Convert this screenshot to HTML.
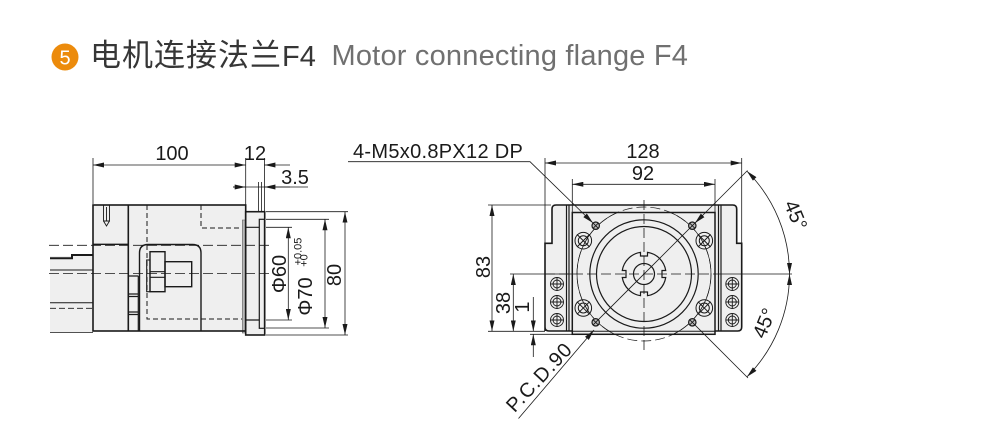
<!DOCTYPE html>
<html>
<head>
<meta charset="utf-8">
<style>
  html,body{margin:0;padding:0;background:#fff;}
  svg{display:block;}
  text{font-family:"Liberation Sans","Noto Sans CJK SC",sans-serif;}
</style>
</head>
<body>
<svg width="990" height="448" viewBox="0 0 990 448" xmlns="http://www.w3.org/2000/svg">
  <defs>
    <marker id="a" markerWidth="11" markerHeight="5" refX="11" refY="2.5" orient="auto-start-reverse" markerUnits="userSpaceOnUse">
      <path d="M0 0 L11 2.5 L0 5 Z" fill="#1a1a1a"/>
    </marker>
    <clipPath id="sq"><rect x="572.3" y="212.5" width="142.7" height="121.8"/></clipPath>
  </defs>
  <rect width="990" height="448" fill="#fff"/>

  <!-- Title -->
  <circle cx="65" cy="57" r="13.5" fill="#EC8B0C"/>
  <text x="65" y="64.5" font-size="20" fill="#fff" text-anchor="middle">5</text>
  <text x="90" y="66" font-size="31" fill="#363636" letter-spacing="1" font-family="'Liberation Sans','Noto Sans CJK SC',sans-serif">电机连接法兰<tspan font-size="29" letter-spacing="0">F4</tspan></text>
  <text x="331.5" y="65" font-size="29" fill="#707070" letter-spacing="0.2">Motor connecting flange F4</text>

  <!-- ================= LEFT DRAWING ================= -->
  <g stroke="none" fill="#efefef">
    <rect x="50" y="256" width="43" height="76.5"/>
    <rect x="93" y="205" width="152.7" height="126"/>
    <rect x="245.7" y="211.7" width="19" height="123.3"/>
  </g>
  <rect x="242.3" y="220" width="3.4" height="113" fill="#b8b8b8" stroke="#666" stroke-width="0.6"/>

  <g fill="none" stroke="#1a1a1a">
    <!-- center / hidden lines -->
    <path d="M49 273.5 H270" stroke-width="0.8" stroke-dasharray="10 4"/>
    <path d="M49 245.3 H270" stroke-width="0.8" stroke-dasharray="10 4"/>
    <path d="M50 308.3 H93" stroke-width="0.9" stroke-dasharray="6 3"/>
    <path d="M147 205 V319 H242 M201 205 V228 H242" stroke-width="1" stroke-dasharray="5 3"/>

    <!-- shaft -->
    <path d="M50 258.3 H72 V255 H93" stroke-width="2"/>
    <path d="M50 270 H93 M50 302.7 H93" stroke-width="1"/>
    <path d="M50 332.5 H93" stroke-width="0.8"/>

    <!-- body -->
    <rect x="93" y="205" width="152.7" height="126" stroke-width="1.6"/>
    <path d="M93 244.3 H128.3" stroke-width="1.3"/>
    <path d="M128.3 205 V331" stroke-width="1.6"/>
    <!-- screw -->
    <path d="M103.5 205 V221 H109.5 V205 M103.5 221 L106.5 226 L109.5 221 M106.5 207 V221" stroke-width="0.9"/>
    <!-- ladder -->
    <path d="M138.3 276 V331 M128.3 276 H138.3 M128.3 294 H138.3 M128.3 296.5 H138.3 M128.3 312 H138.3 M128.3 314.5 H138.3" stroke-width="1.2"/>
    <!-- rounded cover -->
    <path d="M139.5 331 V253 Q139.5 244.5 148 244.5 H192.5 Q201 244.5 201 253 V331" stroke-width="1.4"/>
    <!-- coupling -->
    <rect x="150" y="251.7" width="15" height="40" stroke-width="1.4"/>
    <rect x="165" y="261.7" width="26.7" height="25" stroke-width="1.4"/>
    <rect x="146.7" y="260" width="3.3" height="31.7" stroke-width="1.1"/>
    <path d="M150 271.7 H165 M150 277.3 H165" stroke-width="1.1"/>

    <!-- flange -->
    <rect x="245.7" y="211.7" width="19" height="123.3" stroke-width="1.6"/>
    <rect x="259.3" y="219.3" width="5.2" height="109" stroke-width="1.2"/>
    <path d="M245.7 227.3 H259.3 M245.7 320 H259.3" stroke-width="1.2"/>

    <!-- extension lines -->
    <path d="M93 158 V204 M245.7 158 V211 M264.4 158 V211 M258.5 182 V211 M261.5 182 V211" stroke-width="0.8"/>
    <path d="M266 211.7 H348 M266 335 H348 M266 219.3 H329 M266 328 H329 M266 227.3 H292 M266 320 H292" stroke-width="0.8"/>

    <!-- dimension lines -->
    <line x1="93" y1="165" x2="245.7" y2="165" stroke-width="0.8" marker-start="url(#a)" marker-end="url(#a)"/>
    <line x1="290" y1="165" x2="264.4" y2="165" stroke-width="0.8" marker-end="url(#a)"/>
    <line x1="233" y1="187" x2="308" y2="187" stroke-width="0.8"/>
    <line x1="233" y1="187" x2="245.7" y2="187" stroke-width="0.8" marker-end="url(#a)"/>
    <line x1="290" y1="187" x2="264.4" y2="187" stroke-width="0.8" marker-end="url(#a)"/>
    <line x1="345" y1="211.7" x2="345" y2="335" stroke-width="0.8" marker-start="url(#a)" marker-end="url(#a)"/>
    <line x1="325" y1="219.3" x2="325" y2="328" stroke-width="0.8" marker-start="url(#a)" marker-end="url(#a)"/>
    <line x1="288.3" y1="227.3" x2="288.3" y2="320" stroke-width="0.8" marker-start="url(#a)" marker-end="url(#a)"/>
  </g>

  <g font-size="20" fill="#1a1a1a" text-anchor="middle">
    <text x="172" y="160">100</text>
    <text x="255" y="160">12</text>
    <text x="295" y="184">3.5</text>
    <text transform="translate(279,274) rotate(-90)" y="7">Φ60</text>
    <text transform="translate(305,296.5) rotate(-90)" y="7">Φ70</text>
    <text transform="translate(297.5,251.5) rotate(-90)" y="4" font-size="11">+0.05</text>
    <text transform="translate(303.5,260.5) rotate(-90)" y="4" font-size="11">+0</text>
    <text transform="translate(334,275) rotate(-90)" y="7">80</text>
  </g>

  <!-- ================= RIGHT DRAWING ================= -->
  <path d="M545 331 V243.3 H552 V209 Q552 205 556 205 H732.7 Q736.7 205 736.7 209 V243.3 H741.7 V327 Q741.7 331 737.7 331 H549 Q545 331 545 327 Z" fill="#efefef" stroke="#1a1a1a" stroke-width="1.6"/>
  <rect x="572.3" y="212.5" width="142.7" height="121.8" fill="#efefef" stroke="#1a1a1a" stroke-width="1.5"/>

  <g fill="none" stroke="#1a1a1a">
    <path d="M572.3 331.3 H715" stroke-width="1"/>
    <path d="M566.5 205 V331 M569 205 V331 M718.5 205 V331 M721 205 V331" stroke-width="1.2"/>

    <!-- PCD circle -->
    <circle cx="644" cy="274" r="67" stroke-width="0.7" clip-path="url(#sq)"/>
    <circle cx="644" cy="274" r="67" stroke-width="0.7" stroke-dasharray="10 4"/>
    <circle cx="644" cy="274" r="54.2" stroke-width="1.2"/>
    <circle cx="644" cy="274" r="47.5" stroke-width="1.2"/>
    <!-- boss with keyways -->
    <path d="M647.5 252.28 A22 22 0 0 1 665.72 270.5 L662 270.5 L662 277.5 L665.72 277.5 A22 22 0 0 1 647.5 295.72 L647.5 292 L640.5 292 L640.5 295.72 A22 22 0 0 1 622.28 277.5 L626 277.5 L626 270.5 L622.28 270.5 A22 22 0 0 1 640.5 252.28 L640.5 256 L647.5 256 Z" stroke-width="1.2"/>
    <circle cx="644" cy="274" r="10.5" stroke-width="1.2"/>

    <!-- center lines -->
    <path d="M545 274 H715" stroke-width="0.8" stroke-dasharray="10 4"/>
    <path d="M644 200 V352" stroke-width="0.8" stroke-dasharray="10 4"/>
    <path d="M510 274 H572.3 M715 274 H792" stroke-width="0.8"/>

    <!-- diagonals -->
    <path d="M595.7 322.3 L747.5 170.5" stroke-width="0.8"/>
    <line x1="703" y1="215" x2="694.9" y2="223.1" stroke-width="0.8" marker-end="url(#a)"/>
    <path d="M692.3 322.3 L748 378" stroke-width="0.8"/>
    <line x1="518.5" y1="418.5" x2="594" y2="330" stroke-width="0.8" marker-end="url(#a)"/>
    <path d="M348 161.7 H530 L593 223" stroke-width="0.8" marker-end="url(#a)"/>

    <!-- angle arcs -->
    <path d="M789.5 274 A145.5 145.5 0 0 0 746.9 171.1" stroke-width="0.8" marker-start="url(#a)" marker-end="url(#a)"/>
    <path d="M789.5 274 A145.5 145.5 0 0 1 746.9 376.9" stroke-width="0.8" marker-start="url(#a)" marker-end="url(#a)"/>

    <!-- top dims -->
    <path d="M545 158 V243 M741.7 158 V243 M572.3 179 V212 M715 179 V212" stroke-width="0.8"/>
    <line x1="545" y1="163" x2="741.7" y2="163" stroke-width="0.8" marker-start="url(#a)" marker-end="url(#a)"/>
    <line x1="572.3" y1="184.3" x2="715" y2="184.3" stroke-width="0.8" marker-start="url(#a)" marker-end="url(#a)"/>

    <!-- left dims -->
    <path d="M488 205 H551 M488 331.3 H545 M530 334.3 H572" stroke-width="0.8"/>
    <line x1="492" y1="205" x2="492" y2="331.3" stroke-width="0.8" marker-start="url(#a)" marker-end="url(#a)"/>
    <line x1="513.3" y1="274" x2="513.3" y2="331.3" stroke-width="0.8" marker-start="url(#a)" marker-end="url(#a)"/>
    <line x1="533.3" y1="297" x2="533.3" y2="331.3" stroke-width="0.8" marker-end="url(#a)"/>
    <line x1="533.3" y1="357" x2="533.3" y2="334.3" stroke-width="0.8" marker-end="url(#a)"/>

    <!-- counterbored holes -->
    <g stroke-width="1">
      <circle cx="583.3" cy="240.7" r="8.3"/><circle cx="583.3" cy="240.7" r="5"/>
      <path d="M577 234.4 L589.6 247 M589.6 234.4 L577 247"/>
      <circle cx="704.3" cy="240.7" r="8.3"/><circle cx="704.3" cy="240.7" r="5"/>
      <path d="M698 234.4 L710.6 247 M710.6 234.4 L698 247"/>
      <circle cx="583.3" cy="308" r="8.3"/><circle cx="583.3" cy="308" r="5"/>
      <path d="M577 301.7 L589.6 314.3 M589.6 301.7 L577 314.3"/>
      <circle cx="704.3" cy="308" r="8.3"/><circle cx="704.3" cy="308" r="5"/>
      <path d="M698 301.7 L710.6 314.3 M710.6 301.7 L698 314.3"/>
    </g>

    <!-- side holes -->
    <g stroke-width="0.9">
      <circle cx="557" cy="284" r="6.5"/><circle cx="557" cy="284" r="4"/><path d="M550.5 284 H563.5 M557 277.5 V290.5"/>
      <circle cx="557" cy="302" r="6.5"/><circle cx="557" cy="302" r="4"/><path d="M550.5 302 H563.5 M557 295.5 V308.5"/>
      <circle cx="557" cy="320" r="6.5"/><circle cx="557" cy="320" r="4"/><path d="M550.5 320 H563.5 M557 313.5 V326.5"/>
      <circle cx="732.3" cy="284" r="6.5"/><circle cx="732.3" cy="284" r="4"/><path d="M725.8 284 H738.8 M732.3 277.5 V290.5"/>
      <circle cx="732.3" cy="302" r="6.5"/><circle cx="732.3" cy="302" r="4"/><path d="M725.8 302 H738.8 M732.3 295.5 V308.5"/>
      <circle cx="732.3" cy="320" r="6.5"/><circle cx="732.3" cy="320" r="4"/><path d="M725.8 320 H738.8 M732.3 313.5 V326.5"/>
    </g>
  </g>

  <!-- tapped holes -->
  <g stroke="#1a1a1a" stroke-width="1.2" fill="#bdbdbd">
    <circle cx="595.7" cy="225.7" r="3.7"/>
    <circle cx="692.3" cy="225.7" r="3.7"/>
    <circle cx="595.7" cy="322.3" r="3.7"/>
    <circle cx="692.3" cy="322.3" r="3.7"/>
    <path fill="none" stroke-width="0.9" d="M593.1 223.1 L598.3 228.3 M598.3 223.1 L593.1 228.3 M689.7 223.1 L694.9 228.3 M694.9 223.1 L689.7 228.3 M593.1 319.7 L598.3 324.9 M598.3 319.7 L593.1 324.9 M689.7 319.7 L694.9 324.9 M694.9 319.7 L689.7 324.9"/>
  </g>

  <g font-size="20" fill="#1a1a1a" text-anchor="middle">
    <text x="643" y="158">128</text>
    <text x="643" y="180">92</text>
    <text x="353" y="158" text-anchor="start" letter-spacing="0.3">4-M5x0.8PX12 DP</text>
    <text transform="translate(483,267) rotate(-90)" y="7">83</text>
    <text transform="translate(503,303) rotate(-90)" y="7">38</text>
    <text transform="translate(522,307) rotate(-90)" y="7">1</text>
    <text transform="translate(539,377) rotate(-47)" y="7" letter-spacing="1">P.C.D.90</text>
    <text transform="translate(796,215) rotate(67.5)" y="7">45°</text>
    <text transform="translate(764,323) rotate(-67.5)" y="7">45°</text>
  </g>
</svg>
</body>
</html>
